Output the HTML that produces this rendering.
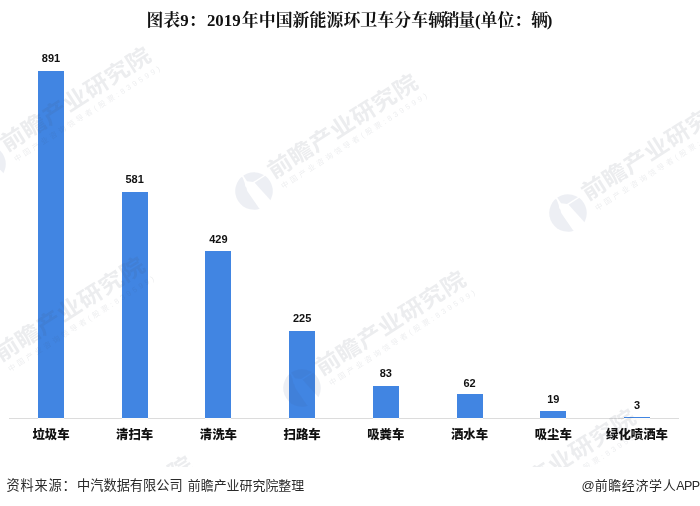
<!DOCTYPE html>
<html lang="zh-CN"><head><meta charset="utf-8"><title>图表9：2019年中国新能源环卫车分车辆销量</title>
<style>
html,body{margin:0;padding:0;background:#fff;}
body{width:700px;height:506px;position:relative;overflow:hidden;font-family:"Liberation Sans","Noto Sans CJK SC",sans-serif;}
.title{position:absolute;left:-0.6px;top:9px;width:700px;text-align:center;font:bold 16.85px/24px "Liberation Serif","Noto Serif CJK SC",serif;color:#111;white-space:nowrap;}
.bar{position:absolute;background:#4185e2;}
.val{position:absolute;width:60px;text-align:center;font:bold 11px/12px "Liberation Sans",sans-serif;color:#111;}
.cat{position:absolute;width:84px;text-align:center;font:900 12.4px/16px "Liberation Sans","Noto Sans CJK SC",sans-serif;color:#111;white-space:nowrap;}
.axis{position:absolute;left:9px;top:418.3px;width:670.3px;height:1.2px;background:#dcdcdc;}
.ub{position:absolute;top:418.3px;height:1.3px;width:26px;background:#fdfbf8;}
.src{position:absolute;top:476px;font:13.2px/20px "Liberation Sans","Noto Sans CJK SC",sans-serif;color:#2a2a2a;white-space:nowrap;}
.app{position:absolute;right:0.5px;top:476px;font:13px/20px "Liberation Sans","Noto Sans CJK SC",sans-serif;color:#2a2a2a;white-space:nowrap;}
.wmlayer{position:absolute;left:0;top:0;width:700px;height:467px;overflow:hidden;pointer-events:none;}
.wm{position:absolute;width:0;height:0;transform:rotate(-32.5deg);transform-origin:0 0;}
.wm svg{position:absolute;left:-20px;top:-20px;}
.wm .big{position:absolute;left:22.9px;top:-22.8px;font:bold 24.5px/30px "Liberation Sans","Noto Sans CJK SC",sans-serif;letter-spacing:0.25px;transform:scaleY(0.9);transform-origin:0 100%;color:rgba(70,75,95,0.10);white-space:nowrap;}
.wm .sub{position:absolute;left:25.8px;top:6px;font:7.5px/12px "Liberation Sans","Noto Sans CJK SC",sans-serif;letter-spacing:2.97px;color:rgba(70,75,95,0.10);white-space:nowrap;}
</style></head><body>
<div class="title">图表9：<span style="margin:0 1.2px 0 1.4px">2019</span><span style="letter-spacing:0.1px">年中国新能源环卫车分车</span><span style="letter-spacing:-2.2px">辆</span><span style="letter-spacing:-1.5px">销</span>量(单位：<span style="letter-spacing:-1.3px">辆</span>)</div>
<div class="axis"></div>

<div class="ub" style="left:38.0px"></div>
<div class="bar" style="left:38.0px;top:70.8px;width:26px;height:347.5px"></div>
<div class="val" style="left:21.0px;top:52.3px">891</div>
<div class="cat" style="left:9.0px;top:427px">垃圾车</div>
<div class="ub" style="left:121.7px"></div>
<div class="bar" style="left:121.7px;top:191.7px;width:26px;height:226.6px"></div>
<div class="val" style="left:104.7px;top:173.2px">581</div>
<div class="cat" style="left:92.7px;top:427px">清扫车</div>
<div class="ub" style="left:205.4px"></div>
<div class="bar" style="left:205.4px;top:251.0px;width:26px;height:167.3px"></div>
<div class="val" style="left:188.4px;top:232.5px">429</div>
<div class="cat" style="left:176.4px;top:427px">清洗车</div>
<div class="ub" style="left:289.1px"></div>
<div class="bar" style="left:289.1px;top:330.6px;width:26px;height:87.8px"></div>
<div class="val" style="left:272.1px;top:312.1px">225</div>
<div class="cat" style="left:260.1px;top:427px">扫路车</div>
<div class="ub" style="left:372.8px"></div>
<div class="bar" style="left:372.8px;top:385.9px;width:26px;height:32.4px"></div>
<div class="val" style="left:355.8px;top:367.4px">83</div>
<div class="cat" style="left:343.8px;top:427px">吸粪车</div>
<div class="ub" style="left:456.5px"></div>
<div class="bar" style="left:456.5px;top:394.1px;width:26px;height:24.2px"></div>
<div class="val" style="left:439.5px;top:376.6px">62</div>
<div class="cat" style="left:427.5px;top:427px">洒水车</div>
<div class="ub" style="left:540.3px"></div>
<div class="bar" style="left:540.3px;top:410.9px;width:26px;height:7.4px"></div>
<div class="val" style="left:523.3px;top:393.4px">19</div>
<div class="cat" style="left:511.3px;top:427px">吸尘车</div>
<div class="ub" style="left:624.0px"></div>
<div class="bar" style="left:624.0px;top:417.1px;width:26px;height:1.2px"></div>
<div class="val" style="left:607.0px;top:398.6px">3</div>
<div class="cat" style="left:595.0px;top:427px">绿化喷洒车</div>
<div class="src" style="left:6.6px;letter-spacing:0.8px">资料来源：</div>
<div class="src" style="left:77.1px">中汽数据有限公司</div>
<div class="src" style="left:187.8px;font-size:12.95px">前瞻产业研究院整理</div>
<div class="app">@<span style="letter-spacing:0.6px">前瞻经济学人</span><span style="font-size:12.5px;letter-spacing:-0.6px">APP</span></div>
<svg width="0" height="0" style="position:absolute"><defs><clipPath id="lc"><circle cx="0" cy="0" r="18.8"/></clipPath></defs></svg>
<div class="wmlayer">
<div class="wm" style="left:-13px;top:163.7px"><svg width="40" height="40" viewBox="-20 -20 40 40"><g clip-path="url(#lc)" fill="rgba(60,85,140,0.095)"><path d="M-20 -20 L-2.6 -20 L-2.4 -17 L-3.4 -12 L-4.7 -9 L-4.7 -6.5 L-5.6 -4 L-5.6 0 L-5 16 L-4.6 20 L-20 20 Z"/><path d="M-0.9 -20 L20 -20 L20 -8.1 L4 -8.1 L-0.7 -12 Z"/><path d="M5 -6.7 L20 -6.7 L20 20 L9.46 20 Z"/></g></svg><div class="big">前瞻产业研究院</div><div class="sub">中国产业咨询领导者(股票:839599)</div></div>
<div class="wm" style="left:254.2px;top:191.4px"><svg width="40" height="40" viewBox="-20 -20 40 40"><g clip-path="url(#lc)" fill="rgba(60,85,140,0.095)"><path d="M-20 -20 L-2.6 -20 L-2.4 -17 L-3.4 -12 L-4.7 -9 L-4.7 -6.5 L-5.6 -4 L-5.6 0 L-5 16 L-4.6 20 L-20 20 Z"/><path d="M-0.9 -20 L20 -20 L20 -8.1 L4 -8.1 L-0.7 -12 Z"/><path d="M5 -6.7 L20 -6.7 L20 20 L9.46 20 Z"/></g></svg><div class="big">前瞻产业研究院</div><div class="sub">中国产业咨询领导者(股票:839599)</div></div>
<div class="wm" style="left:568.1px;top:213.2px"><svg width="40" height="40" viewBox="-20 -20 40 40"><g clip-path="url(#lc)" fill="rgba(60,85,140,0.095)"><path d="M-20 -20 L-2.6 -20 L-2.4 -17 L-3.4 -12 L-4.7 -9 L-4.7 -6.5 L-5.6 -4 L-5.6 0 L-5 16 L-4.6 20 L-20 20 Z"/><path d="M-0.9 -20 L20 -20 L20 -8.1 L4 -8.1 L-0.7 -12 Z"/><path d="M5 -6.7 L20 -6.7 L20 20 L9.46 20 Z"/></g></svg><div class="big">前瞻产业研究院</div><div class="sub">中国产业咨询领导者(股票:839599)</div></div>
<div class="wm" style="left:-19.1px;top:374.4px"><svg width="40" height="40" viewBox="-20 -20 40 40"><g clip-path="url(#lc)" fill="rgba(60,85,140,0.095)"><path d="M-20 -20 L-2.6 -20 L-2.4 -17 L-3.4 -12 L-4.7 -9 L-4.7 -6.5 L-5.6 -4 L-5.6 0 L-5 16 L-4.6 20 L-20 20 Z"/><path d="M-0.9 -20 L20 -20 L20 -8.1 L4 -8.1 L-0.7 -12 Z"/><path d="M5 -6.7 L20 -6.7 L20 20 L9.46 20 Z"/></g></svg><div class="big">前瞻产业研究院</div><div class="sub">中国产业咨询领导者(股票:839599)</div></div>
<div class="wm" style="left:302.1px;top:388.2px"><svg width="40" height="40" viewBox="-20 -20 40 40"><g clip-path="url(#lc)" fill="rgba(60,85,140,0.095)"><path d="M-20 -20 L-2.6 -20 L-2.4 -17 L-3.4 -12 L-4.7 -9 L-4.7 -6.5 L-5.6 -4 L-5.6 0 L-5 16 L-4.6 20 L-20 20 Z"/><path d="M-0.9 -20 L20 -20 L20 -8.1 L4 -8.1 L-0.7 -12 Z"/><path d="M5 -6.7 L20 -6.7 L20 20 L9.46 20 Z"/></g></svg><div class="big">前瞻产业研究院</div><div class="sub">中国产业咨询领导者(股票:839599)</div></div>
<div class="wm" style="left:472.1px;top:526.2px"><svg width="40" height="40" viewBox="-20 -20 40 40"><g clip-path="url(#lc)" fill="rgba(60,85,140,0.095)"><path d="M-20 -20 L-2.6 -20 L-2.4 -17 L-3.4 -12 L-4.7 -9 L-4.7 -6.5 L-5.6 -4 L-5.6 0 L-5 16 L-4.6 20 L-20 20 Z"/><path d="M-0.9 -20 L20 -20 L20 -8.1 L4 -8.1 L-0.7 -12 Z"/><path d="M5 -6.7 L20 -6.7 L20 20 L9.46 20 Z"/></g></svg><div class="big">前瞻产业研究院</div><div class="sub">中国产业咨询领导者(股票:839599)</div></div>
<div class="wm" style="left:28.7px;top:573.3px"><svg width="40" height="40" viewBox="-20 -20 40 40"><g clip-path="url(#lc)" fill="rgba(60,85,140,0.095)"><path d="M-20 -20 L-2.6 -20 L-2.4 -17 L-3.4 -12 L-4.7 -9 L-4.7 -6.5 L-5.6 -4 L-5.6 0 L-5 16 L-4.6 20 L-20 20 Z"/><path d="M-0.9 -20 L20 -20 L20 -8.1 L4 -8.1 L-0.7 -12 Z"/><path d="M5 -6.7 L20 -6.7 L20 20 L9.46 20 Z"/></g></svg><div class="big">前瞻产业研究院</div><div class="sub">中国产业咨询领导者(股票:839599)</div></div>
</div>
</body></html>
